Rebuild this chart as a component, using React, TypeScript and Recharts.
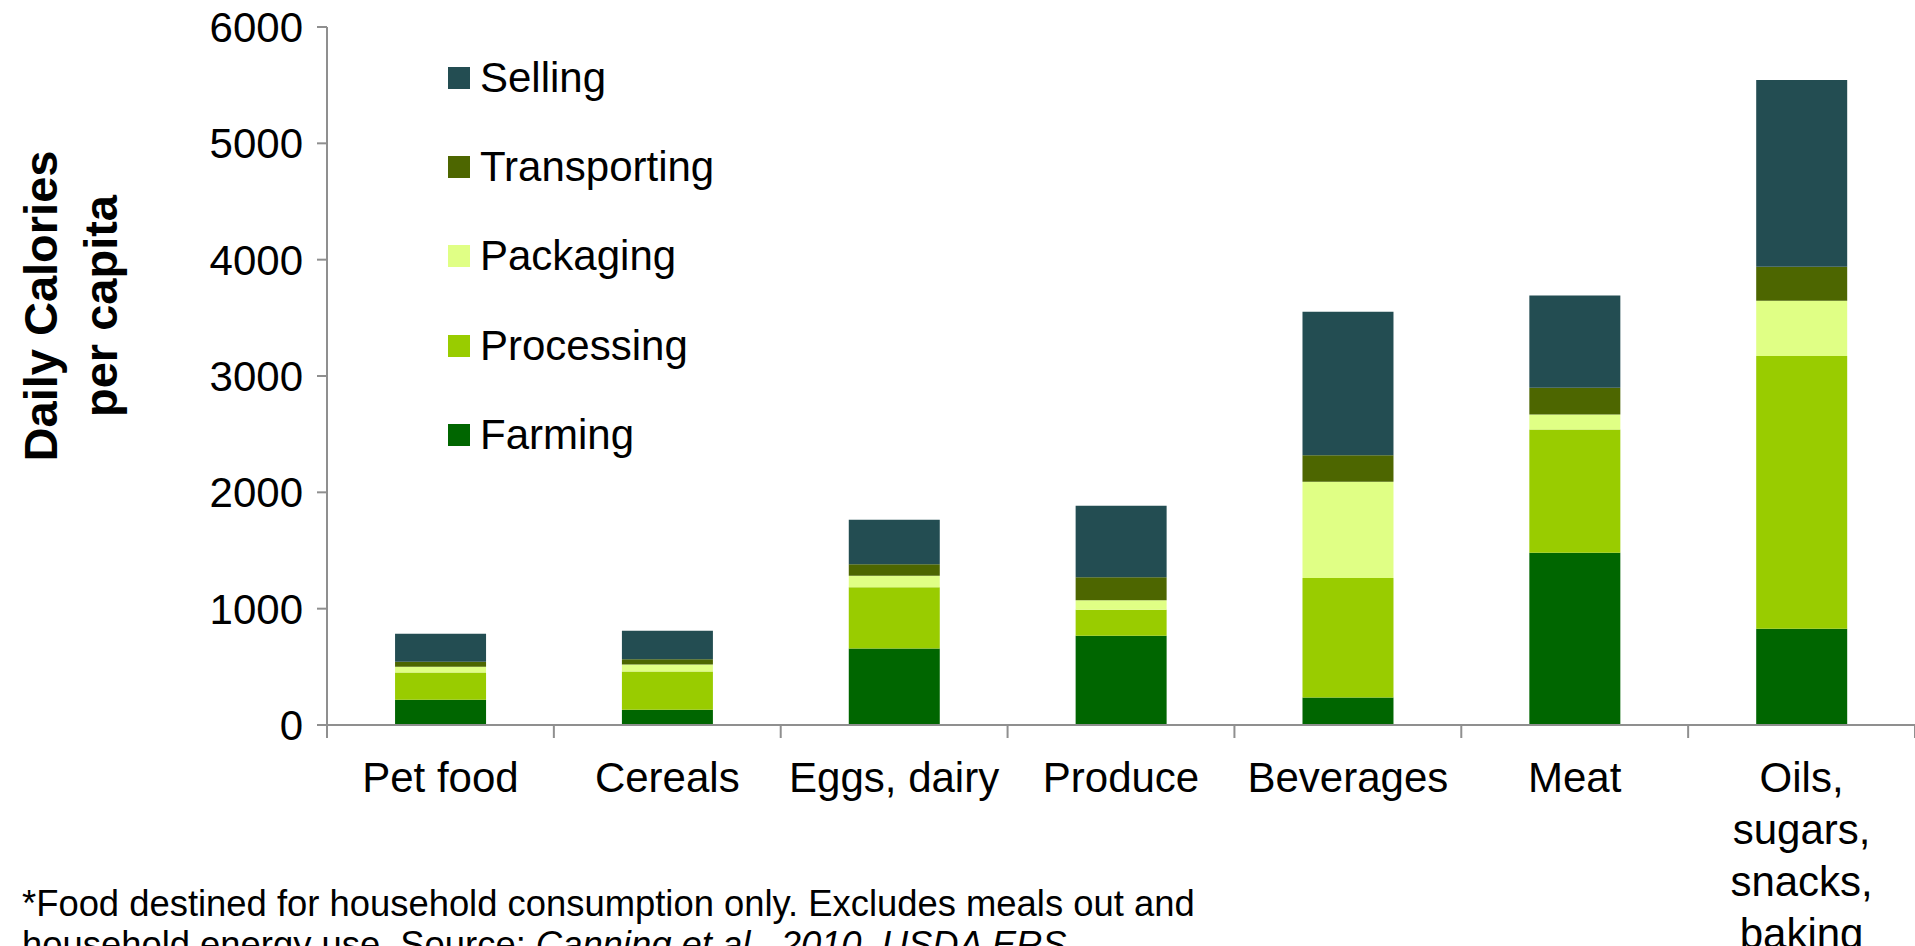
import React from 'react';
import { BarChart, Bar, XAxis, YAxis, Legend } from 'recharts';

const categories = ['Pet food', 'Cereals', 'Eggs, dairy', 'Produce', 'Beverages', 'Meat', 'Oils, sugars, snacks, baking'];
const categoryLines: Record<string, string[]> = {
  'Pet food': ['Pet food'],
  'Cereals': ['Cereals'],
  'Eggs, dairy': ['Eggs, dairy'],
  'Produce': ['Produce'],
  'Beverages': ['Beverages'],
  'Meat': ['Meat'],
  'Oils, sugars, snacks, baking': ['Oils,', 'sugars,', 'snacks,', 'baking'],
};
const farming = [218, 132, 658, 767, 236, 1480, 828];
const processing = [233, 328, 526, 224, 1028, 1060, 2344];
const packaging = [49, 60, 98, 81, 828, 130, 475];
const transporting = [43, 46, 100, 198, 227, 229, 293];
const selling = [241, 244, 382, 615, 1233, 794, 1605];
const yTicks = [0, 1000, 2000, 3000, 4000, 5000, 6000];

const seriesKeys = ['farming', 'processing', 'packaging', 'transporting', 'selling'];
const seriesNames = ['Farming', 'Processing', 'Packaging', 'Transporting', 'Selling'];
const seriesColors = ['#006600', '#99CC00', '#E0FF85', '#4D6600', '#234D52'];

const data = categories.map((c, i) => ({
  category: c,
  farming: farming[i],
  processing: processing[i],
  packaging: packaging[i],
  transporting: transporting[i],
  selling: selling[i],
}));

const FONT = '"Liberation Sans", Arial, sans-serif';
const AXIS_GRAY = '#8f8f8f';

const XTick = (props: any) => {
  const { x, y, payload, index } = props;
  const half = payload && typeof payload.offset === 'number' && payload.offset > 0 ? payload.offset : 113.5;
  const lines = categoryLines[payload.value] || [String(payload.value)];
  return (
    <g>
      <line x1={x - half} x2={x - half} y1={y} y2={y + 13} stroke={AXIS_GRAY} strokeWidth={2} />
      {index === categories.length - 1 && (
        <line x1={x + half} x2={x + half} y1={y} y2={y + 13} stroke={AXIS_GRAY} strokeWidth={2} />
      )}
      <text x={x} y={y + 67} textAnchor="middle" fontSize={42} fill="#000" fontFamily={FONT}>
        {lines.map((l, i) => (
          <tspan key={i} x={x} dy={i === 0 ? 0 : 52}>
            {l}
          </tspan>
        ))}
      </text>
    </g>
  );
};

const YLabel = () => (
  <g>
    <text
      x={57}
      y={306}
      transform="rotate(-90, 57, 306)"
      textAnchor="middle"
      fontSize={47}
      fontWeight="bold"
      fill="#000"
      fontFamily={FONT}
    >
      Daily Calories
    </text>
    <text
      x={117}
      y={306}
      transform="rotate(-90, 117, 306)"
      textAnchor="middle"
      fontSize={47}
      fontWeight="bold"
      fill="#000"
      fontFamily={FONT}
    >
      per capita
    </text>
  </g>
);

const LegendBox = () => {
  const order = [4, 3, 2, 1, 0];
  return (
    <div style={{ position: 'relative', width: 400, height: 480, fontFamily: FONT }}>
      {order.map((s, i) => {
        const cy = 78 + i * 89.2;
        return (
          <div key={s}>
            <div
              style={{
                position: 'absolute',
                left: 448,
                top: cy - 11,
                width: 22,
                height: 22,
                background: seriesColors[s],
              }}
            />
            <div
              style={{
                position: 'absolute',
                left: 480,
                top: cy - 25,
                height: 50,
                lineHeight: '50px',
                fontSize: 42,
                color: '#000',
                whiteSpace: 'nowrap',
              }}
            >
              {seriesNames[s]}
            </div>
          </div>
        );
      })}
    </div>
  );
};

export default function App() {
  return (
    <div style={{ position: 'absolute', left: 0, top: 0, width: 1915, height: 946, background: '#fff', overflow: 'hidden' }}>
      <BarChart
        width={1915}
        height={946}
        data={data}
        margin={{ top: 27, right: 0, left: 227, bottom: 0 }}
        barCategoryGap="30%"
      >
        <XAxis
          dataKey="category"
          interval={0}
          height={221}
          tickSize={0}
          tickMargin={0}
          tickLine={false}
          axisLine={{ stroke: AXIS_GRAY, strokeWidth: 2 }}
          tick={<XTick />}
        />
        <YAxis
          width={100}
          domain={[0, 6000]}
          ticks={yTicks}
          interval={0}
          tickSize={10}
          tickMargin={14}
          tickLine={{ stroke: AXIS_GRAY, strokeWidth: 2 }}
          axisLine={{ stroke: AXIS_GRAY, strokeWidth: 2 }}
          tick={{ fontSize: 42, fill: '#000', fontFamily: FONT }}
          label={{ content: () => <YLabel /> }}
        />
        <Legend
          layout="vertical"
          align="center"
          verticalAlign="middle"
          wrapperStyle={{ position: 'absolute', top: 0, left: 0, width: 400, height: 480 }}
          content={() => <LegendBox />}
        />
        {seriesKeys.map((k, i) => (
          <Bar key={k} dataKey={k} name={seriesNames[i]} stackId="a" fill={seriesColors[i]} isAnimationActive={false} />
        ))}
      </BarChart>
      <div
        style={{
          position: 'absolute',
          left: 22,
          top: 883,
          fontFamily: FONT,
          fontSize: 36.4,
          lineHeight: '41px',
          color: '#000',
          whiteSpace: 'nowrap',
        }}
      >
        *Food destined for household consumption only. Excludes meals out and
        <br />
        household energy use. Source: <i>Canning et al., 2010, USDA ERS</i>
      </div>
    </div>
  );
}
